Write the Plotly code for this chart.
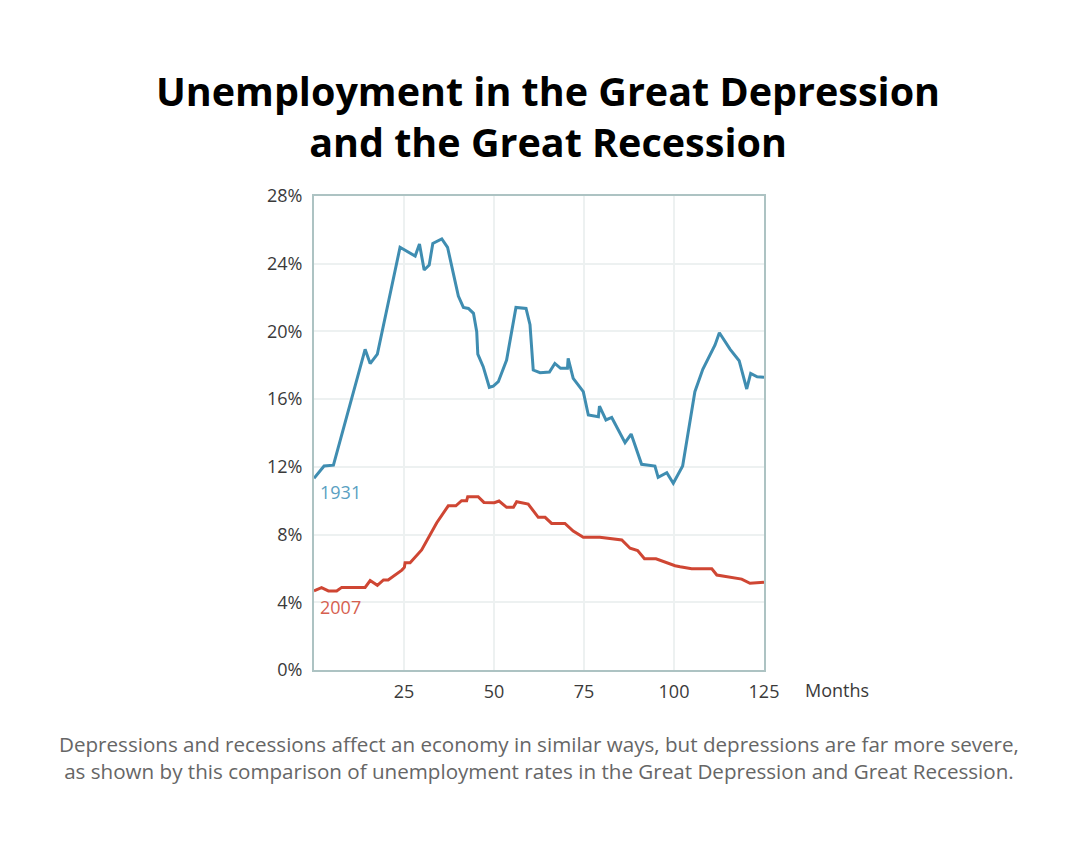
import plotly.graph_objects as go

# 1931 series (Great Depression): months since start, unemployment %
months_1931 = [0, 2.8, 5.4, 14.2, 15.6, 17.6, 23.9, 28.1, 29.3, 30.6, 32, 33, 35.5, 37.1,
               38.7, 40.1, 41.5, 42.9, 44.3, 45.2, 45.5, 47, 48.7, 49.8, 51.2, 53.5, 56.1,
               58.9, 60, 60.9, 62.8, 65.4, 66.9, 68.5, 70.4, 70.6, 72, 74.8, 76.2, 79, 79.3,
               81.1, 82.7, 86.4, 88.1, 91, 94.7, 95.6, 98, 99.8, 102.4, 105.8, 108, 111.4,
               112.6, 115.6, 118.1, 120.2, 121.3, 123.1, 125]
rate_1931 = [11.32, 12.05, 12.1, 18.94, 18.1, 18.66, 24.97, 24.45, 25.16, 23.63, 23.92, 25.2,
             25.46, 24.97, 23.43, 22.09, 21.42, 21.36, 21.07, 19.98, 18.66, 17.92, 16.7, 16.77,
             17.03, 18.31, 21.42, 21.36, 20.4, 17.72, 17.56, 17.6, 18.11, 17.82, 17.82, 18.41,
             17.23, 16.44, 15.06, 14.96, 15.59, 14.77, 14.92, 13.43, 13.94, 12.15, 12.05, 11.38,
             11.65, 11.03, 12.05, 16.44, 17.76, 19.2, 19.92, 18.94, 18.27, 16.6, 17.52, 17.32,
             17.29]

# 2007 series (Great Recession)
months_2007 = [0, 2.1, 4, 6.3, 7.7, 14.2, 15.6, 17.6, 19.3, 20.6, 24.4, 25.1, 25.3, 26.7,
               29.9, 34.1, 37.3, 39.4, 41, 42.4, 42.7, 45.6, 47.2, 50.1, 51.4, 53.5, 55.4,
               56.3, 59.5, 62.3, 64.2, 66, 69.7, 72, 74.8, 79.4, 85.5, 87.8, 89.9, 91.8, 95,
               100.3, 101.7, 104.9, 110.5, 111.9, 118.8, 121.1, 125]
rate_2007 = [4.67, 4.86, 4.67, 4.67, 4.88, 4.88, 5.28, 5.0, 5.32, 5.32, 5.9, 6.06, 6.34, 6.34,
             7.09, 8.7, 9.7, 9.7, 10.0, 10.0, 10.24, 10.24, 9.9, 9.88, 9.98, 9.61, 9.61,
             9.94, 9.8, 9.02, 9.02, 8.66, 8.66, 8.21, 7.84, 7.84, 7.68, 7.19, 7.05, 6.57, 6.57,
             6.16, 6.1, 5.98, 5.98, 5.61, 5.37, 5.12, 5.18]

x_ticks = [25, 50, 75, 100, 125]
y_ticks = [0, 4, 8, 12, 16, 20, 24, 28]
y_tick_labels = [f"{v}%" for v in y_ticks]

title_text = "Unemployment in the Great Depression<br>and the Great Recession"
caption_text = ("Depressions and recessions affect an economy in similar ways, but depressions are far more severe,<br>"
                "as shown by this comparison of unemployment rates in the Great Depression and Great Recession.")

BLUE = "#3f8db1"
RED = "#cf4633"
FONT = "Open Sans"
TICK_COLOR = "#3a3a3a"

fig = go.Figure()
fig.add_trace(go.Scatter(x=months_1931, y=rate_1931, mode="lines",
                         line=dict(color=BLUE, width=3), name="1931", hoverinfo="skip"))
fig.add_trace(go.Scatter(x=months_2007, y=rate_2007, mode="lines",
                         line=dict(color=RED, width=3), name="2007", hoverinfo="skip"))

fig.update_layout(
    width=1080, height=844,
    margin=dict(l=306, r=324, t=188, b=182),
    paper_bgcolor="white", plot_bgcolor="white",
    showlegend=False,
    font=dict(family=FONT, color=TICK_COLOR, size=18),
    title=dict(text="<b>" + title_text + "</b>", x=0.5, xanchor="center",
               y=1 - 98 / 844, yanchor="top",
               font=dict(family="Open Sans", size=39.5, color="#000000")),
)

fig.update_xaxes(range=[0, 125], tickvals=x_ticks, ticktext=[str(t) for t in x_ticks],
                 showgrid=True, gridcolor="#edf1f1", gridwidth=1.5,
                 showline=True, linecolor="#adc3c3", linewidth=2, mirror=True,
                 ticks="", zeroline=False, ticklabelstandoff=4,
                 tickfont=dict(family=FONT, size=18, color=TICK_COLOR))
fig.update_yaxes(range=[0, 28], tickvals=y_ticks, ticktext=y_tick_labels,
                 showgrid=True, gridcolor="#edf1f1", gridwidth=1.5,
                 showline=True, linecolor="#adc3c3", linewidth=2, mirror=True,
                 ticks="", zeroline=False, ticklabelstandoff=6,
                 tickfont=dict(family=FONT, size=18, color=TICK_COLOR))

fig.add_annotation(x=125, y=0, xref="x", yref="y", text="Months", showarrow=False,
                   xanchor="left", yanchor="middle", xshift=39, yshift=-20,
                   font=dict(family=FONT, size=18, color=TICK_COLOR))
fig.add_annotation(x=months_1931[0], y=rate_1931[0], xref="x", yref="y", text="1931",
                   showarrow=False, xanchor="left", yanchor="middle", xshift=4, yshift=-14,
                   font=dict(family=FONT, size=18, color="#5a9fc2"))
fig.add_annotation(x=months_2007[0], y=rate_2007[0], xref="x", yref="y", text="2007",
                   showarrow=False, xanchor="left", yanchor="middle", xshift=4, yshift=-16,
                   font=dict(family=FONT, size=18, color="#d6604f"))
fig.add_annotation(x=0.5, y=0, xref="paper", yref="paper", text=caption_text,
                   showarrow=False, xanchor="center", yanchor="top", align="center",
                   yshift=-58,
                   font=dict(family=FONT, size=20.6, color="#666666"))

fig.write_html("out.html")
